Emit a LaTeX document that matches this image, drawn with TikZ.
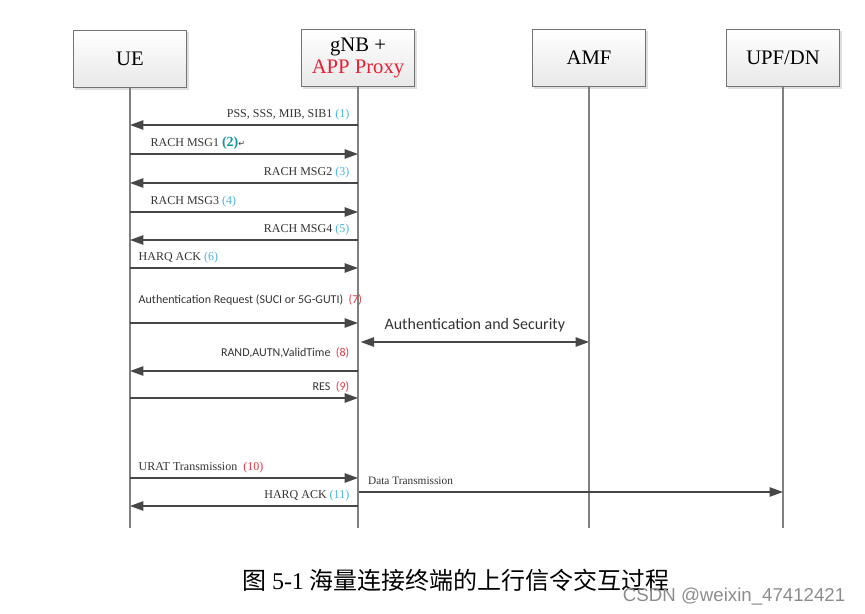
\documentclass[tikz,border=0pt]{standalone}
\usepackage{fontspec}
\setmainfont{Liberation Serif}
\setsansfont{Carlito}
\newfontfamily\cjkfont{Noto Sans CJK SC}
\newfontfamily\symfont{DejaVu Sans}
\newfontfamily\markfont{Liberation Sans}
\usetikzlibrary{positioning,arrows.meta,shadows}

\definecolor{numcyan}{RGB}{70,180,220}
\definecolor{numteal}{RGB}{20,150,160}
\definecolor{numred}{RGB}{225,55,70}
\definecolor{proxyred}{RGB}{232,30,50}

\begin{document}
\begin{tikzpicture}[x=0.75pt, y=-0.75pt,
    actor/.style={draw=black!55, top color=white, bottom color=black!9,
                  minimum width=85pt, minimum height=43pt, align=center,
                  font=\fontsize{15.5}{16.5}\selectfont,
                  drop shadow={shadow xshift=1.5pt, shadow yshift=-1.5pt, opacity=0.25}},
    life/.style={draw=black!50, line width=1.2pt},
    msg/.style={draw=black!72, line width=1.1pt, -{Triangle[length=10pt, width=7pt]}},
    both/.style={msg, {Triangle[length=10pt, width=7pt]}-{Triangle[length=10pt, width=7pt]}},
    lbl/.style={font=\fontsize{9}{10}\selectfont, text=black!80, inner sep=0pt},
    albl/.style={font=\sffamily\fontsize{9}{10}\selectfont, text=black!80, inner sep=0pt},
    toleft/.style={at start, anchor=base east, xshift=-6pt, yshift=6pt},
    toright/.style={at start, anchor=base west, xshift=#1, yshift=6pt}]

    \useasboundingbox (0,0) rectangle (865,614);

    % actors
    \node[actor] (ue)  at (130,59) {UE};
    \node[actor] (gnb) at (358,58) {gNB +\\\textcolor{proxyred}{APP Proxy}};
    \node[actor] (amf) at (589,58) {AMF};
    \node[actor] (upf) at (783,58) {UPF/DN};

    \coordinate (bot) at (0,528);
    \draw[life] (ue.south)  -- (ue.south |- bot);
    \draw[life] (gnb.south) -- (gnb.south |- bot);
    \draw[life] (amf.south) -- (amf.south |- bot);
    \draw[life] (upf.south) -- (upf.south |- bot);

    % rows
    \coordinate (r1)  at (0,125);
    \coordinate (r2)  at (0,154);
    \coordinate (r3)  at (0,183);
    \coordinate (r4)  at (0,212);
    \coordinate (r5)  at (0,240);
    \coordinate (r6)  at (0,268);
    \coordinate (r7)  at (0,323);
    \coordinate (rs)  at (0,342);
    \coordinate (r8)  at (0,371);
    \coordinate (r9)  at (0,398);
    \coordinate (r10) at (0,478);
    \coordinate (rd)  at (0,492);
    \coordinate (r11) at (0,506);

    % access
    \draw[msg] (gnb |- r1) -- node[lbl, toleft]{PSS, SSS, MIB, SIB1 \textcolor{numcyan}{(1)}} (ue |- r1);
    \draw[msg] (ue |- r2) -- node[lbl, toright=15pt]{RACH MSG1 \textcolor{numteal}{\fontsize{10.5}{10}\selectfont\bfseries(2)}{\symfont\fontsize{6}{6}\selectfont ↵}} (gnb |- r2);
    \draw[msg] (gnb |- r3) -- node[lbl, toleft]{RACH MSG2 \textcolor{numcyan}{(3)}} (ue |- r3);
    \draw[msg] (ue |- r4) -- node[lbl, toright=15pt]{RACH MSG3 \textcolor{numcyan}{(4)}} (gnb |- r4);
    \draw[msg] (gnb |- r5) -- node[lbl, toleft]{RACH MSG4 \textcolor{numcyan}{(5)}} (ue |- r5);
    \draw[msg] (ue |- r6) -- node[lbl, toright=6pt]{HARQ ACK \textcolor{numcyan}{(6)}} (gnb |- r6);

    % authentication
    \draw[msg] (ue |- r7) -- node[albl, toright=6pt, yshift=8.5pt]{Authentication Request (SUCI or 5G-GUTI)\ \ \textcolor{numred}{(7)}} (gnb |- r7);
    \draw[both] ([xshift=2pt]gnb |- rs) -- node[albl, above=7pt, font=\sffamily\fontsize{12}{13}\selectfont, text=black!80]{Authentication and Security} (amf |- rs);
    \draw[msg] (gnb |- r8) -- node[albl, toleft, yshift=5pt]{RAND,AUTN,ValidTime\ \ \textcolor{numred}{(8)}} (ue |- r8);
    \draw[msg] (ue |- r9) -- node[albl, at end, anchor=base east, xshift=-6pt, yshift=6pt]{RES\ \ \textcolor{numred}{(9)}} (gnb |- r9);

    % data
    \draw[msg] (ue |- r10) -- node[lbl, toright=6pt]{URAT Transmission\ \ \textcolor{numred}{(10)}} (gnb |- r10);
    \draw[msg] ([xshift=1pt]gnb |- rd) -- node[lbl, toright=6pt, font=\fontsize{8.5}{10}\selectfont]{Data Transmission} (upf |- rd);
    \draw[msg] (gnb |- r11) -- node[lbl, toleft]{HARQ ACK \textcolor{numcyan}{(11)}} (ue |- r11);

    % caption
    \node[font=\fontsize{18}{20}\selectfont] (cap) at (456,580) {{\cjkfont 图} 5-1 {\cjkfont 海量连接终端的上行信令交互过程}};
    \node[font=\markfont\fontsize{14}{15}\selectfont, text=black!45, anchor=east] (mark) at (850,597) {CSDN @weixin\_47412421};
\end{tikzpicture}
\end{document}
